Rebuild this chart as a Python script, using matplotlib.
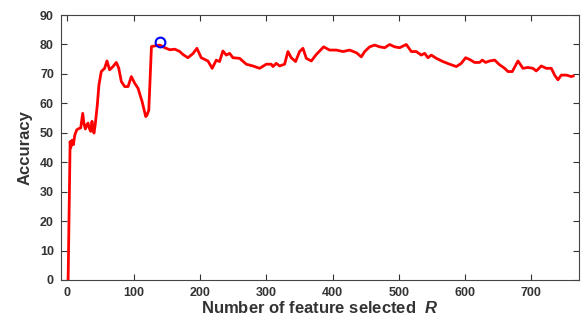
import matplotlib
matplotlib.use('Agg')
import matplotlib.pyplot as plt

plt.rcParams['font.family'] = ['Liberation Sans', 'DejaVu Sans']
plt.rcParams['mathtext.fontset'] = 'custom'
plt.rcParams['mathtext.it'] = 'Liberation Sans:italic:bold'

# number of selected features and accuracy
feat = [1, 4, 5, 7, 9, 11, 14, 16, 20, 23, 25, 27, 29, 31, 33, 35, 37, 38, 40, 42,
        45, 47.5, 51, 56, 59.6, 63.6, 68.7, 73.7, 77.3, 81.3, 86.4, 91.4, 96.4, 101.5,
        106.5, 112.6, 118.1, 120, 122.7, 126.7, 131.7, 139.3, 146.8, 154.4, 162, 169.5,
        174.2, 181.7, 189.3, 195.3, 201.8, 211.9, 218.4, 224.5, 229.5, 234.5, 239.6,
        244.6, 249.6, 259.7, 269.8, 279.8, 289.9, 300, 307.5, 310, 315, 320, 327.6,
        332.6, 337.6, 344.2, 350.2, 355.3, 360.3, 367.9, 375.4, 386.5, 395.5, 405.6,
        415.7, 425.7, 435.8, 443.4, 448.4, 456, 463.5, 471, 478.6, 486.1, 493.6, 501.2,
        511.2, 518.8, 526.3, 533.8, 538.9, 543.9, 548.9, 556.5, 566.5, 576.6, 586.7,
        594.2, 600.7, 606.8, 614.3, 621.8, 625.9, 630.9, 636.9, 644.5, 652, 659.6,
        664.6, 671.1, 679.7, 687.2, 694.8, 702.3, 707.3, 714.9, 722.4, 730, 735, 740,
        745.1, 752.6, 760.2, 763]
acc = [0, 47, 45, 47.5, 46, 49.2, 51, 51.3, 51.7, 56.6, 53, 51.3, 52.5, 53.3, 51.5, 50.5,
       53.9, 52, 49.9, 53, 59.4, 66.3, 70.8, 71.9, 74.4, 71.4, 72.5, 73.9, 72, 67.4,
       65.7, 65.7, 69.1, 66.8, 65.1, 60.6, 55.5, 56, 57.7, 79.3, 79.5, 79.8, 78.9, 78.2,
       78.4, 77.6, 76.6, 75.5, 76.9, 78.7, 75.5, 74.4, 71.9, 74.7, 74.2, 77.8, 76.4,
       77, 75.5, 75.3, 73.3, 72.7, 71.9, 73.3, 73.3, 72.5, 73.6, 72.7, 73.3, 77.6,
       75.5, 74.2, 77.6, 78.7, 75.3, 74.4, 76.6, 79.2, 78.1, 78.1, 77.6, 78.1, 77.2,
       75.8, 77.6, 79.2, 79.8, 79.2, 78.9, 80, 79.2, 78.9, 80, 77.6, 77.6, 76.4, 77,
       75.5, 76.4, 75.3, 74.2, 73.3, 72.5, 73.6, 75.5, 74.9, 73.9, 73.9, 74.7, 73.9,
       74.4, 74.7, 73.1, 71.9, 70.8, 70.8, 74.4, 71.9, 72.2, 71.9, 71, 72.7, 71.9,
       71.9, 69.6, 68, 69.6, 69.6, 69.1, 69.3]
best_x = [140]
best_y = [81]

fig = plt.figure(figsize=(5.85, 3.2), dpi=100)
ax = fig.add_axes([0.104, 0.125, 0.886, 0.828])
ax.plot(feat, acc, color='red', linewidth=2)
ax.plot(best_x, best_y, 'o', markerfacecolor='none', markeredgecolor='blue',
        markersize=7, markeredgewidth=1.5)

ax.set_xlim(-10, 772)
ax.set_ylim(0, 90)
ax.set_xticks(range(0, 701, 100))
ax.set_yticks(range(0, 91, 10))
ax.tick_params(direction='in', top=True, right=True, length=4, width=0.8,
               labelsize=9, colors='#333333', pad=5)
for lab in ax.get_xticklabels() + ax.get_yticklabels():
    lab.set_fontweight('bold')
for s in ax.spines.values():
    s.set_color('#444444')
    s.set_linewidth(0.8)

ax.set_xlabel(r'Number of feature selected  $R$', fontsize=12,
              fontweight='bold', color='#333333', labelpad=1)
ax.set_ylabel('Accuracy', fontsize=12, fontweight='bold', color='#333333', labelpad=5)

fig.savefig('out.png', dpi=100)
